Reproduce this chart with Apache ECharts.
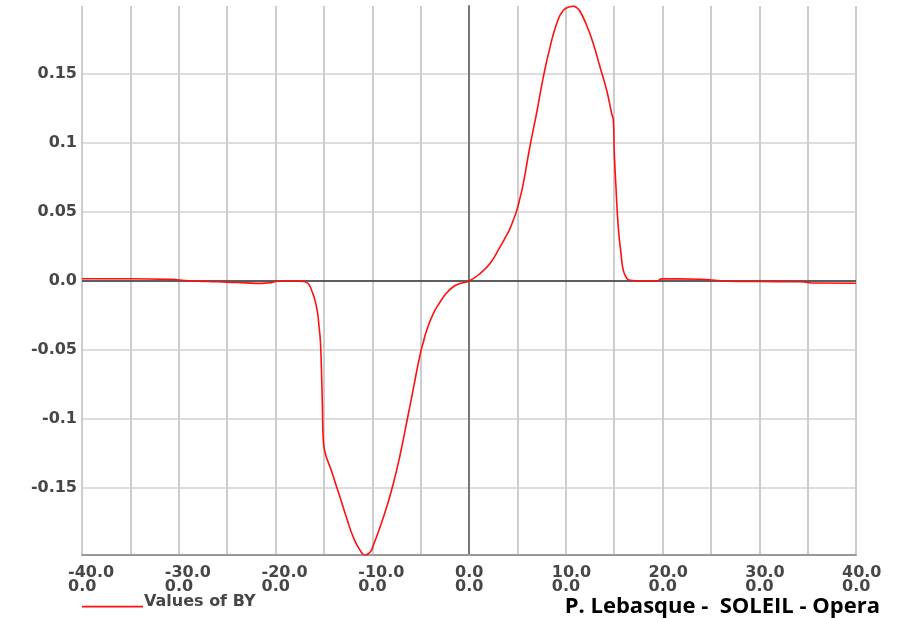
<!DOCTYPE html>
<html>
<head>
<meta charset="utf-8">
<script src="https://cdn.jsdelivr.net/npm/echarts@6/dist/echarts.min.js"></script>
<style>
html,body{margin:0;padding:0;background:#fff;}
#chart{width:906px;height:618px;}
</style>
</head>
<body>
<div id="chart"></div>
<script>
// Position along axis (mm)
const xValues = [
  -40, -35, -31, -29, -27, -25, -23, -21.5, -20.5, -19.8, -19, -18,
  -17.2, -16.8, -16.5, -16.2, -16, -15.7, -15.5, -15.35, -15.22, -15.16, -15.06,
  -14.03, -13.33, -12.64, -11.96, -11.27, -10.75, -10.23, -9.89, -9.2, -8.51, -7.82,
  -7.13, -6.44, -5.75, -5.06, -4.7, -4.37, -3.69, -3.0, -2.3, -1.62, -0.93, 0,
  1.14, 2.17, 3.2, 3.72, 4.24, 4.6, 4.93, 5.25, 5.61, 6.3, 6.99, 7.68, 8.37, 9.06, 9.75,
  10.44, 10.78, 11.12, 11.47, 12.16, 12.85, 13.54, 14.23, 14.75, 14.92,
  15.02, 15.19, 15.43, 15.71, 15.95, 16.3, 16.64, 17.67,
  19.4, 19.95, 21.8, 23.9, 25.4, 26.7, 30.1, 34.2, 35.8, 40
];
// Values of BY
const byValues = [
  0.0016, 0.0016, 0.0012, 0.0002, -0.0004, -0.0008, -0.0014, -0.0017, -0.0012, -0.0002, 0, 0,
  -0.0003, -0.001, -0.003, -0.008, -0.012, -0.021, -0.033, -0.045, -0.072, -0.089, -0.1154,
  -0.1415, -0.1567, -0.172, -0.1857, -0.1951, -0.1986, -0.1966, -0.1915, -0.1785, -0.1638, -0.1468,
  -0.1263, -0.1024, -0.0778, -0.0535, -0.0438, -0.0357, -0.0236, -0.0154, -0.0086, -0.0042, -0.0019, 0,
  0.0054, 0.0126, 0.0245, 0.031, 0.038, 0.0445, 0.051, 0.0595, 0.0705, 0.0976, 0.1217, 0.1478, 0.1693, 0.1865, 0.1962,
  0.1988, 0.1992, 0.1981, 0.1955, 0.1853, 0.172, 0.1551, 0.1382, 0.1213, 0.1165,
  0.0925, 0.0679, 0.0389, 0.0201, 0.0077, 0.002, 0.0005, 0,
  0, 0.0015, 0.0015, 0.0012, 0.0005, -0.0002, -0.0004, -0.0006, -0.0015, -0.0016
];
const seriesName = 'Values of BY';
const creditText = 'P. Lebasque -  SOLEIL - Opera';
const xMin = -40, xMax = 40, xStep = 5, xLabelStep = 10;
const yMin = -0.1986, yMax = 0.1993;

const labelFont = { fontFamily: 'DejaVu Sans', fontWeight: 'bold', fontSize: 16, color: '#474747' };

const chart = echarts.init(document.getElementById('chart'));
chart.setOption({
  animation: false,
  backgroundColor: '#fff',
  grid: { left: 82, right: 50, top: 6, bottom: 63, containLabel: false },
  legend: {
    show: true,
    data: [seriesName],
    left: 82, top: 594, padding: 0,
    icon: 'path://M0,0L0.05,0L0.05,0.05Z M0,9L60,9L60,10.6L0,10.6Z',
    itemWidth: 61, itemHeight: 12,
    textStyle: Object.assign({}, labelFont, { padding: [0, 0, 0, -4] })
  },
  xAxis: {
    type: 'value',
    min: xMin, max: xMax, interval: xStep,
    axisLine: { onZero: false, lineStyle: { color: '#999', width: 2 } },
    axisTick: { show: false },
    splitLine: { show: true, lineStyle: { color: '#cdcdcd', width: 2 } },
    axisLabel: Object.assign({}, labelFont, {
      margin: 11,
      lineHeight: 14,
      align: 'center',
      alignMinLabel: 'center',
      alignMaxLabel: 'center',
      rich: {
        v: Object.assign({}, labelFont, { width: 28, align: 'left', lineHeight: 14 })
      },
      formatter: function (v) {
        if (Math.abs(v % xLabelStep) > 1e-9) return '';
        return '{v|' + v.toFixed(1) + '}\n{v|0.0}';
      }
    })
  },
  yAxis: {
    type: 'value',
    min: yMin, max: yMax, splitNumber: 8,
    axisLine: { show: true, lineStyle: { color: '#777', width: 2 } },
    axisTick: { show: false },
    splitLine: { show: true, showMinLine: false, showMaxLine: false, lineStyle: { color: '#d2d2d2', width: 1.5 } },
    axisLabel: Object.assign({}, labelFont, {
      margin: 5,
      showMinLabel: false, showMaxLabel: false,
      formatter: function (v) {
        if (Math.abs(v * 20 - Math.round(v * 20)) > 1e-6) return '';
        const r = Math.round(v * 100) / 100;
        return r === 0 ? '0.0' : String(r);
      }
    })
  },
  graphic: [{
    type: 'text',
    right: 26, top: 596,
    style: { text: creditText, font: 'bold 22px "Open Sans"', fill: '#000' }
  }],
  series: [{
    name: seriesName,
    type: 'line',
    data: xValues.map((x, i) => [x, byValues[i]]),
    showSymbol: false,
    smooth: 0.5,
    lineStyle: { color: '#ff1010', width: 1.6 },
    itemStyle: { color: '#ff1010' },
    z: 3,
    markLine: {
      silent: true,
      symbol: ['none', 'none'],
      label: { show: false },
      lineStyle: { color: '#333', width: 1.5, type: 'solid' },
      data: [{ yAxis: 0 }],
      z: 2
    }
  }]
});
</script>
</body>
</html>
